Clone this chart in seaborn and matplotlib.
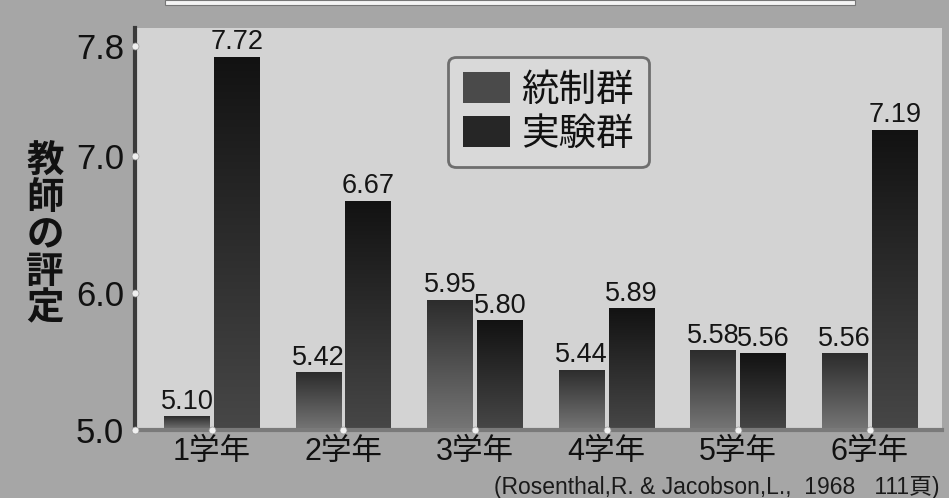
import numpy as np
import pandas as pd
import matplotlib
matplotlib.use("Agg")
import matplotlib.pyplot as plt
import matplotlib.transforms as mtransforms
from matplotlib.colors import LinearSegmentedColormap
from matplotlib.patches import Rectangle
import seaborn as sns

grades = ["1学年", "2学年", "3学年", "4学年", "5学年", "6学年"]
groups = ["統制群", "実験群"]
control = [5.10, 5.42, 5.95, 5.44, 5.58, 5.56]
experiment = [7.72, 6.67, 5.80, 5.89, 5.56, 7.19]
yticks = [5.0, 6.0, 7.0, 7.8]
ylabel = "教師の評定"
source = "(Rosenthal,R. & Jacobson,L.,  1968   111頁)"

df = pd.DataFrame({
    "grade": grades * 2,
    "score": control + experiment,
    "group": [groups[0]] * len(grades) + [groups[1]] * len(grades),
})

sns.set_theme(style="white")
plt.rcParams["font.family"] = ["Liberation Sans", "Noto Sans CJK JP"]

fig = plt.figure(figsize=(9.49, 4.98), dpi=100)
fig.patch.set_facecolor("#a6a6a6")
ax = fig.add_axes([135 / 949, 68 / 498, 807 / 949, 402 / 498])
ax.set_facecolor("#d3d3d3")

top_cols = {groups[0]: "#2c2c2c", groups[1]: "#121212"}
bot_cols = {groups[0]: "#767676", groups[1]: "#474747"}
mid_cols = {groups[0]: "#4a4a4a", groups[1]: "#262626"}

sns.barplot(data=df, x="grade", y="score", hue="group", hue_order=groups,
            palette=mid_cols, width=0.76, gap=0.08, ax=ax, legend=True,
            edgecolor="none", linewidth=0)

ax.set_ylim(5.0, 7.93)
ax.set_xlim(-0.585, 5.55)

grad = np.linspace(0, 1, 256).reshape(-1, 1)
# gradient fills clipped to each bar
for cont, g in zip(ax.containers, groups):
    cmap = LinearSegmentedColormap.from_list(g, [bot_cols[g], top_cols[g]])
    for bar in cont:
        x0 = bar.get_x()
        w = bar.get_width()
        h = bar.get_y() + bar.get_height()
        im = ax.imshow(grad, cmap=cmap, origin="lower", aspect="auto",
                       extent=[x0, x0 + w, 5.0, h], zorder=bar.get_zorder() + 0.1)
        im.set_clip_path(bar)
    ax.bar_label(cont, labels=[f"{v:.2f}" for v in cont.datavalues],
                 padding=1, fontsize=19.5, color="#151515")

ax.set_xlim(-0.585, 5.55)
ax.set_ylim(5.0, 7.93)

ax.set_yticks(yticks)
ax.set_yticklabels([f"{t:.1f}" for t in yticks], fontsize=25, color="#111111")
ax.tick_params(axis="y", length=0, pad=8)
ax.tick_params(axis="x", length=0, pad=5, labelsize=22, labelcolor="#111111")
ax.set_xlabel("")
ax.set_ylabel("")

for s in ["top", "right"]:
    ax.spines[s].set_visible(False)
ax.spines["left"].set_color("#3a3a3a")
ax.spines["left"].set_linewidth(3)
ax.spines["bottom"].set_color("#7a7a7a")
ax.spines["bottom"].set_linewidth(3)

# tick dots
tr_y = mtransforms.blended_transform_factory(ax.transAxes, ax.transData)
ax.plot([0] * len(yticks), yticks, "o", ms=5, color="#f0f0f0", mec="#999999",
        mew=0.5, transform=tr_y, clip_on=False, zorder=10)
tr_x = mtransforms.blended_transform_factory(ax.transData, ax.transAxes)
ax.plot(range(len(grades)), [0] * len(grades), "o", ms=5, color="#f0f0f0",
        mec="#999999", mew=0.5, transform=tr_x, clip_on=False, zorder=10)

# legend
leg = ax.legend(loc="upper left", bbox_to_anchor=(448 / 949, 1 - 57 / 498),
                bbox_transform=fig.transFigure, fontsize=27, frameon=True,
                fancybox=True, facecolor="#d9d9d9", edgecolor="#6e6e6e",
                framealpha=1, handlelength=1.25, handleheight=0.9,
                handletextpad=0.3, labelspacing=0.2, borderpad=0.4,
                borderaxespad=0, title=None)
leg.get_frame().set_linewidth(2)
for t in leg.get_texts():
    t.set_color("#111111")

# vertical y label
fig.text(45 / 949, 1 - 236 / 498, "\n".join(ylabel), ha="center", va="center",
         fontsize=27, fontweight="bold", linespacing=1.02, color="#111111")

# source
fig.text(940 / 949, 1 - 487 / 498, source, ha="right", va="center",
         fontsize=16.5, color="#1a1a1a")

# top white strip
fig.patches.append(Rectangle((165 / 949, 1 - 5 / 498), 690 / 949, 5 / 498,
                             transform=fig.transFigure, facecolor="#f4f4f4",
                             edgecolor="#777777", linewidth=0.8))

fig.savefig("out.png", dpi=100, facecolor=fig.get_facecolor())
